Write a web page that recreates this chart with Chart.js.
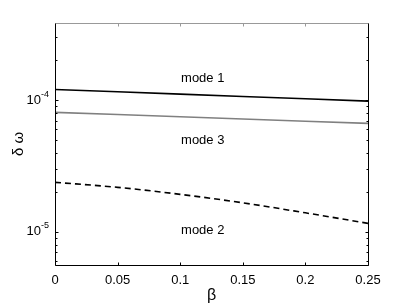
<!DOCTYPE html>
<html><head><meta charset="utf-8">
<script src="https://cdn.jsdelivr.net/npm/chart.js@4"></script>
<style>html,body{margin:0;padding:0;background:#fff}#w{width:407px;height:306px}</style>
</head><body><div id="w"><canvas id="c"></canvas></div>
<script>
const beta = [0, 0.05, 0.1, 0.15, 0.2, 0.25];
const mode1 = [1.205e-4, 1.157e-4, 1.111e-4, 1.066e-4, 1.024e-4, 0.983e-4];
const mode3 = [0.807e-4, 0.777e-4, 0.747e-4, 0.719e-4, 0.692e-4, 0.666e-4];
const mode2 = [2.376e-5, 2.177e-5, 1.926e-5, 1.661e-5, 1.394e-5, 1.16e-5];
const xTicks = [0, 0.05, 0.1, 0.15, 0.2, 0.25];
const yMajor = [1e-5, 1e-4];
const yMinor = [6e-6, 7e-6, 8e-6, 9e-6, 2e-5, 3e-5, 4e-5, 5e-5, 6e-5, 7e-5, 8e-5, 9e-5, 2e-4, 3e-4];
const labels = [
  {text: 'mode 1', x: 0.118, y: 1.47e-4},
  {text: 'mode 3', x: 0.118, y: 0.49e-4},
  {text: 'mode 2', x: 0.118, y: 1.03e-5}
];
const FONT = '"Liberation Sans", Arial, sans-serif';

const deco = {
  id: 'deco',
  afterDraw(chart) {
    const ctx = chart.ctx, a = chart.chartArea;
    const xs = chart.scales.x, ys = chart.scales.y;
    const L = Math.round(a.left) + 0.5, R = Math.round(a.right) + 0.5;
    const T = Math.round(a.top) + 0.5, B = Math.round(a.bottom) + 0.5;
    ctx.save();
    ctx.lineWidth = 1;
    ctx.strokeStyle = '#999';
    ctx.beginPath();
    ctx.moveTo(L, T); ctx.lineTo(R, T);
    xTicks.forEach(v => {
      const px = Math.round(xs.getPixelForValue(v)) + 0.5;
      ctx.moveTo(px, T); ctx.lineTo(px, T + 3);
    });
    ctx.stroke();
    ctx.strokeStyle = '#000';
    ctx.beginPath();
    ctx.moveTo(L, T); ctx.lineTo(L, B); ctx.lineTo(R, B); ctx.lineTo(R, T);
    xTicks.forEach(v => {
      const px = Math.round(xs.getPixelForValue(v)) + 0.5;
      ctx.moveTo(px, B); ctx.lineTo(px, B - 3);
    });
    yMajor.forEach(v => {
      const py = Math.round(ys.getPixelForValue(v)) + 0.5;
      ctx.moveTo(L, py); ctx.lineTo(L + 3, py);
      ctx.moveTo(R, py); ctx.lineTo(R - 3, py);
    });
    yMinor.forEach(v => {
      const py = Math.round(ys.getPixelForValue(v)) + 0.5;
      ctx.moveTo(L, py); ctx.lineTo(L + 2, py);
      ctx.moveTo(R, py); ctx.lineTo(R - 2, py);
    });
    ctx.stroke();
    ctx.fillStyle = '#000';
    ctx.textBaseline = 'middle';
    yMajor.forEach(v => {
      const py = ys.getPixelForValue(v);
      const exp = String(Math.round(Math.log10(v)));
      ctx.font = '13px ' + FONT;
      ctx.textAlign = 'right';
      ctx.fillText('10', a.left - 14, py);
      ctx.font = '9px ' + FONT;
      ctx.textAlign = 'left';
      ctx.fillText(exp, a.left - 14, py - 6);
    });
    ctx.font = '13px ' + FONT;
    ctx.textAlign = 'center';
    labels.forEach(l => {
      ctx.fillText(l.text, xs.getPixelForValue(l.x), ys.getPixelForValue(l.y));
    });
    ctx.restore();
  }
};

new Chart(document.getElementById('c'), {
  type: 'line',
  data: {
    datasets: [
      {label: 'mode 1', data: beta.map((b, i) => ({x: b, y: mode1[i]})), borderColor: '#000', borderWidth: 1.6},
      {label: 'mode 3', data: beta.map((b, i) => ({x: b, y: mode3[i]})), borderColor: '#808080', borderWidth: 1.6},
      {label: 'mode 2', data: beta.map((b, i) => ({x: b, y: mode2[i]})), borderColor: '#000', borderWidth: 1.6, borderDash: [6, 4], cubicInterpolationMode: 'monotone'}
    ]
  },
  options: {
    responsive: true, maintainAspectRatio: false, animation: false,
    layout: {padding: {left: 0, right: 39, top: 23, bottom: 0}},
    elements: {point: {radius: 0}, line: {tension: 0}},
    plugins: {legend: {display: false}, tooltip: {enabled: false}},
    scales: {
      x: {
        type: 'linear', min: 0, max: 0.25,
        afterBuildTicks: s => { s.ticks = xTicks.map(v => ({value: v})); },
        afterFit: s => { s.height = 41; },
        grid: {display: false, drawTicks: false},
        border: {display: false},
        ticks: {padding: 8, color: '#000', font: {family: FONT, size: 13}, maxRotation: 0,
          callback: v => String(v)},
        title: {display: true, text: 'β', color: '#000', font: {family: FONT, size: 16}, padding: {top: 0, bottom: 1}}
      },
      y: {
        type: 'logarithmic', min: 5.6e-6, max: 3.85e-4,
        afterFit: s => { s.width = 55; },
        grid: {display: false, drawTicks: false},
        border: {display: false},
        ticks: {display: false},
        title: {display: true, text: 'δ ω', color: '#000', font: {family: FONT, size: 15}, padding: {top: 10, bottom: 0}}
      }
    }
  },
  plugins: [deco]
});
</script></body></html>
